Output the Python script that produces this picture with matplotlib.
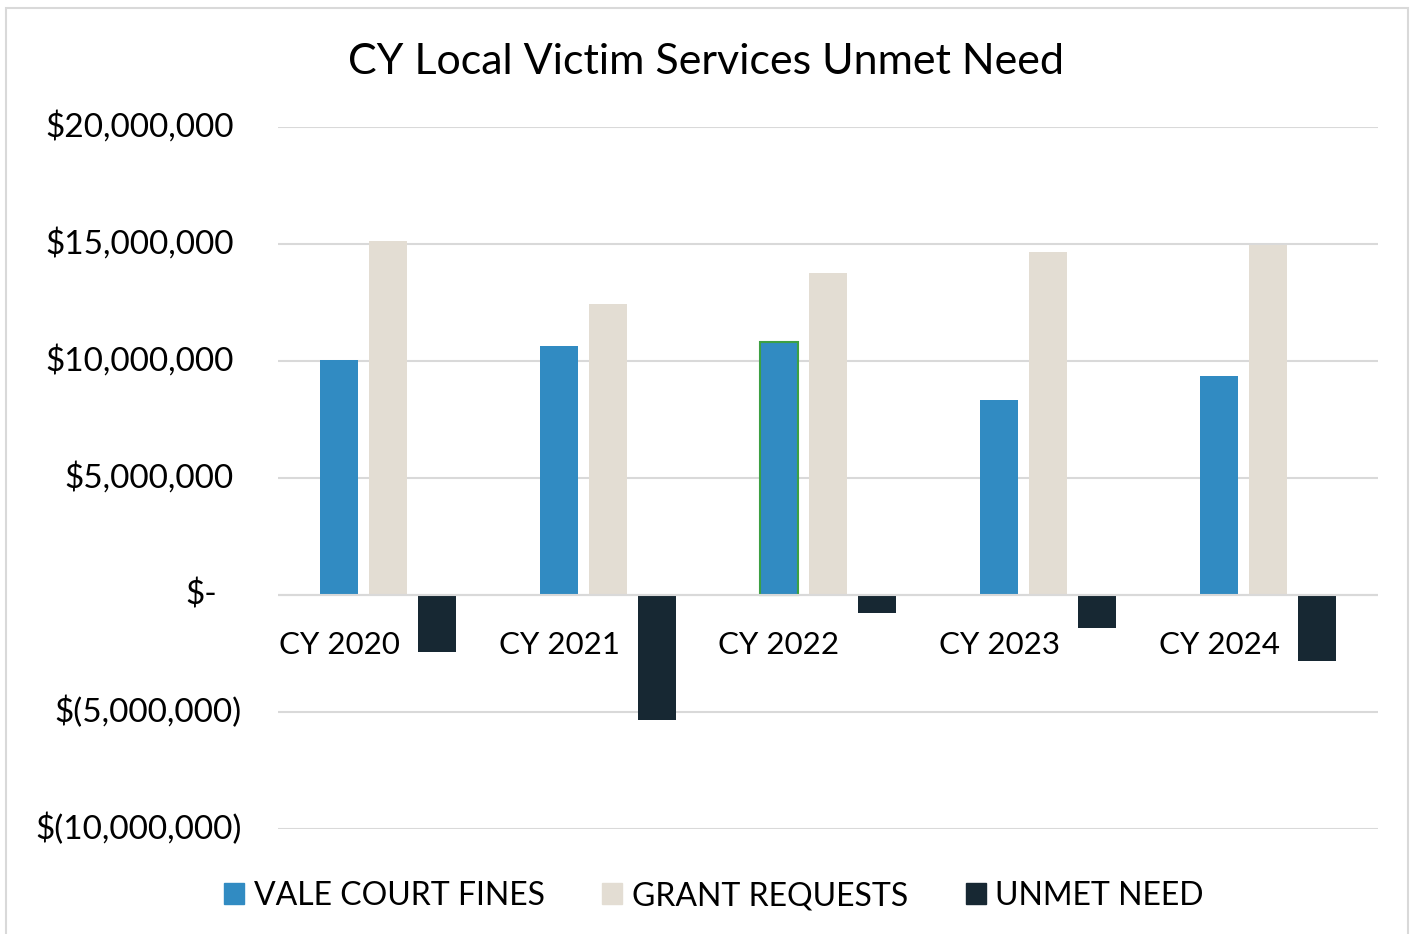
import numpy as np
import matplotlib
matplotlib.use('Agg')
import matplotlib.pyplot as plt
from matplotlib.patches import Rectangle, Patch
import matplotlib.transforms as mtransforms

# chart data (dollars)
categories = ['CY 2020', 'CY 2021', 'CY 2022', 'CY 2023', 'CY 2024']
vale_fines = [10_060_000, 10_640_000, 10_810_000, 8_350_000, 9_340_000]
grant_requests = [15_130_000, 12_430_000, 13_760_000, 14_660_000, 14_940_000]
unmet_need = [-2_440_000, -5_340_000, -770_000, -1_410_000, -2_820_000]
y_ticks = [-10_000_000, -5_000_000, 0, 5_000_000, 10_000_000, 15_000_000, 20_000_000]
series_names = ['VALE COURT FINES', 'GRANT REQUESTS', 'UNMET NEED']

BLUE = '#318BC2'
BEIGE = '#E3DDD3'
NAVY = '#172833'
GRID = '#D9D9D9'

plt.rcParams['font.family'] = ['Lato', 'DejaVu Sans']

fig = plt.figure(figsize=(14.12, 9.34), dpi=100)
ax = fig.add_axes([278 / 1412, 1 - 829 / 934, 1100 / 1412, 702 / 934])

x = np.arange(len(categories))
w = 0.173
off = 0.2227
blue_bars = ax.bar(x - off, vale_fines, w, color=BLUE, zorder=3)
# the 2022 bar carries a green outline in the original
blue_bars[2].set_edgecolor('#3DA043')
blue_bars[2].set_linewidth(1.5)
ax.bar(x, grant_requests, w, color=BEIGE, zorder=3)
ax.bar(x + off, unmet_need, w, color=NAVY, zorder=3)

ax.set_xlim(-0.5, len(categories) - 0.5)
ax.set_ylim(y_ticks[0], y_ticks[-1])
ax.set_yticks(y_ticks)
ax.set_yticklabels([])
ax.set_xticks([])
ax.tick_params(length=0)
ax.grid(axis='y', color=GRID, linewidth=1.5, zorder=0)
ax.axhline(0, color=GRID, linewidth=1.5, zorder=4)
for s in ax.spines.values():
    s.set_visible(False)


def money(v):
    if v == 0:
        return '$-'
    if v < 0:
        return '$({:,.0f})'.format(-v)
    return '${:,.0f}'.format(v)


# y labels drawn by hand to mimic Excel accounting alignment
for v in y_ticks:
    if v > 0:
        dx = -44
    elif v < 0:
        dx = -36
    else:
        dx = -61
    tr = mtransforms.blended_transform_factory(ax.transAxes, ax.transData) + \
        mtransforms.ScaledTranslation(dx / 100, 0, fig.dpi_scale_trans)
    ax.text(0, v, money(v), transform=tr, ha='right', va='center', fontsize=24)

# category labels sit just below the zero line
for i, c in enumerate(categories):
    tr = ax.transData + mtransforms.ScaledTranslation(0, -50 / 100, fig.dpi_scale_trans)
    ax.text(i - off, 0, c, transform=tr, ha='center', va='center', fontsize=22.5)

fig.text(706 / 1412, 1 - 62 / 934, 'CY Local Victim Services Unmet Need',
         ha='center', va='center', fontsize=31)

handles = [Patch(color=BLUE), Patch(color=BEIGE), Patch(color=NAVY)]
fig.legend(handles, series_names, loc='center', ncol=3,
           bbox_to_anchor=(714 / 1412, 1 - 896 / 934), frameon=False,
           fontsize=23, handlelength=0.63, handleheight=0.63,
           handletextpad=0.3, columnspacing=1.8)

# outer chart border
fig.patches.append(Rectangle((6 / 1412, -0.05), 1402 / 1412, 1.05 - 8 / 934,
                             transform=fig.transFigure, fill=False,
                             edgecolor='#D9D9D9', linewidth=1.5))

fig.savefig('out.png', dpi=100)
